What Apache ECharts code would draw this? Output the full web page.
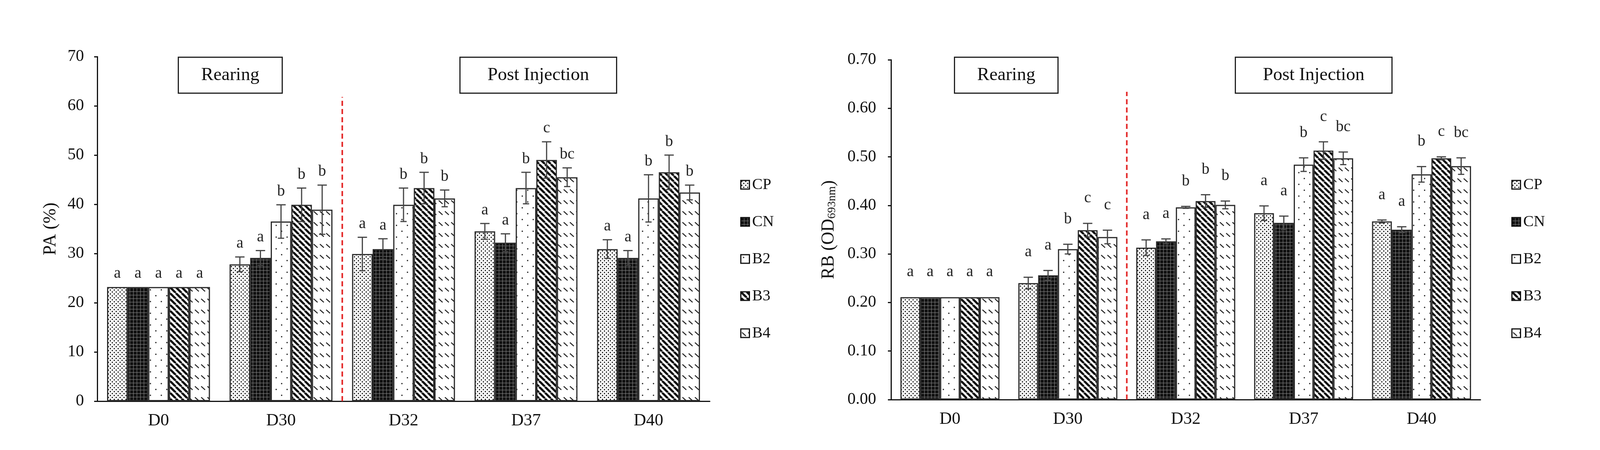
<!DOCTYPE html>
<html>
<head>
<meta charset="utf-8">
<script src="https://cdn.jsdelivr.net/npm/echarts@6/dist/echarts.min.js"></script>
<style>
  html, body { margin: 0; padding: 0; background: #fff; }
  #chart { width: 4108px; height: 1152px; }
</style>
</head>
<body>
<div id="chart"></div>
<script>
var FONT = 'Liberation Serif';

var days = ['D0', 'D30', 'D32', 'D37', 'D40'];
var groups = ['CP', 'CN', 'B2', 'B3', 'B4'];

// PA (%)
var paCP = [23.2, 27.8, 29.9, 34.5, 30.9];
var paCN = [23.2, 29.1, 30.9, 32.2, 29.1];
var paB2 = [23.2, 36.5, 39.9, 43.3, 41.2];
var paB3 = [23.2, 39.9, 43.3, 49.0, 46.5];
var paB4 = [23.2, 38.9, 41.2, 45.5, 42.4];
var paErrCP = [0, 1.5, 3.4, 1.6, 1.9];
var paErrCN = [0, 1.5, 2.1, 1.8, 1.5];
var paErrB2 = [0, 3.4, 3.4, 3.2, 4.8];
var paErrB3 = [0, 3.4, 3.2, 3.7, 3.5];
var paErrB4 = [0, 5.0, 1.7, 1.9, 1.5];
var paLetters = [
  ['a', 'a', 'a', 'a', 'a'],
  ['a', 'a', 'a', 'a', 'a'],
  ['a', 'b', 'b', 'b', 'b'],
  ['a', 'b', 'b', 'c', 'b'],
  ['a', 'b', 'b', 'bc', 'b']
];

// RB (OD 693nm)
var rbCP = [0.211, 0.240, 0.313, 0.384, 0.367];
var rbCN = [0.211, 0.256, 0.326, 0.364, 0.350];
var rbB2 = [0.211, 0.310, 0.396, 0.484, 0.464];
var rbB3 = [0.211, 0.349, 0.409, 0.513, 0.497];
var rbB4 = [0.211, 0.335, 0.401, 0.497, 0.481];
var rbErrCP = [0, 0.012, 0.016, 0.015, 0.003];
var rbErrCN = [0, 0.010, 0.005, 0.014, 0.006];
var rbErrB2 = [0, 0.010, 0.002, 0.014, 0.016];
var rbErrB3 = [0, 0.014, 0.013, 0.018, 0.003];
var rbErrB4 = [0, 0.014, 0.008, 0.013, 0.017];
var rbLetters = [
  ['a', 'a', 'a', 'a', 'a'],
  ['a', 'a', 'a', 'a', 'a'],
  ['a', 'b', 'b', 'b', 'b'],
  ['a', 'c', 'b', 'c', 'c'],
  ['a', 'c', 'b', 'bc', 'bc']
];

// where the rearing / post injection divider starts (axis units)
var paDividerTop = 61.8;
var rbDividerTop = 0.634;

function makeCanvas(w, h, draw) {
  var c = document.createElement('canvas');
  c.width = w; c.height = h;
  var ctx = c.getContext('2d');
  draw(ctx, w, h);
  return c;
}
function dot(ctx, x, y, r) {
  ctx.beginPath(); ctx.arc(x, y, r, 0, Math.PI * 2); ctx.fill();
}

var patterns = [
  // CP: dense dots
  makeCanvas(10, 10, function (ctx, w, h) {
    ctx.fillStyle = '#fff'; ctx.fillRect(0, 0, w, h);
    ctx.fillStyle = '#111';
    dot(ctx, 2.5, 2.5, 1.7); dot(ctx, 7.5, 7.5, 1.7);
  }),
  // CN: black with fine grey grid
  makeCanvas(9, 9, function (ctx, w, h) {
    ctx.fillStyle = '#111'; ctx.fillRect(0, 0, w, h);
    ctx.strokeStyle = '#8a8a8a'; ctx.lineWidth = 1;
    ctx.beginPath();
    ctx.moveTo(8.5, 0); ctx.lineTo(8.5, h);
    ctx.moveTo(0, 8.5); ctx.lineTo(w, 8.5);
    ctx.stroke();
  }),
  // B2: sparse dots
  makeCanvas(28, 30, function (ctx, w, h) {
    ctx.fillStyle = '#fff'; ctx.fillRect(0, 0, w, h);
    ctx.fillStyle = '#111';
    dot(ctx, 7, 7, 1.7); dot(ctx, 21, 22, 1.7);
  }),
  // B3: wide diagonal stripes
  makeCanvas(15, 15, function (ctx, w, h) {
    ctx.fillStyle = '#fff'; ctx.fillRect(0, 0, w, h);
    ctx.strokeStyle = '#111'; ctx.lineWidth = 5.5;
    ctx.beginPath();
    [-w, 0, w].forEach(function (k) { ctx.moveTo(k, 0); ctx.lineTo(k + w, h); });
    ctx.stroke();
  }),
  // B4: dashed diagonals
  makeCanvas(16, 28, function (ctx, w, h) {
    ctx.fillStyle = '#fff'; ctx.fillRect(0, 0, w, h);
    ctx.strokeStyle = '#222'; ctx.lineWidth = 2.4;
    ctx.beginPath(); ctx.moveTo(3, 9); ctx.lineTo(13, 18); ctx.stroke();
  })
];

var chart = echarts.init(document.getElementById('chart'));

var axisLineStyle = { color: '#111', width: 3 };

function barSeries(idx, name, data, pattern) {
  return {
    type: 'bar',
    name: name,
    xAxisIndex: idx,
    yAxisIndex: idx,
    data: data,
    barGap: '0%',
    barCategoryGap: '16%',
    itemStyle: {
      color: { image: pattern, repeat: 'repeat' },
      borderColor: '#2a2a2a',
      borderWidth: 3
    }
  };
}

function errorSeries(idx, vals, errs, letters, letterOffset) {
  var data = [];
  for (var s = 0; s < vals.length; s++) {
    for (var d = 0; d < days.length; d++) {
      data.push([d, s, vals[s][d], errs[s][d]]);
    }
  }
  return {
    type: 'custom',
    xAxisIndex: idx,
    yAxisIndex: idx,
    encode: { x: 0, y: 2 },
    z: 5,
    data: data,
    renderItem: function (params, api) {
      var d = api.value(0), s = api.value(1), v = api.value(2), e = api.value(3);
      var band = api.size([1, 0])[0];
      var bw = band * 0.84 / 5;
      var x = api.coord([d, 0])[0] + (s - 2) * bw;
      var yTop = api.coord([d, v + e])[1];
      var yBot = api.coord([d, v - e])[1];
      var ls = { stroke: '#444', lineWidth: 3 };
      var children = [];
      if (e > 0) {
        children.push(
          { type: 'line', shape: { x1: x, y1: yBot, x2: x, y2: yTop }, style: ls },
          { type: 'line', shape: { x1: x - 12, y1: yTop, x2: x + 12, y2: yTop }, style: ls },
          { type: 'line', shape: { x1: x - 8, y1: yBot, x2: x + 8, y2: yBot }, style: ls }
        );
      }
      children.push({
        type: 'text',
        style: {
          text: letters[s][d], x: x, y: yTop - letterOffset,
          fill: '#222', fontSize: 40, fontFamily: FONT,
          align: 'center', verticalAlign: 'middle'
        }
      });
      return { type: 'group', children: children };
    }
  };
}

function dividerSeries(idx, top) {
  return {
    type: 'custom',
    xAxisIndex: idx,
    yAxisIndex: idx,
    encode: { x: 0, y: 1 },
    data: [[1, top]],
    renderItem: function (params, api) {
      var x = api.coord([1, 0])[0] + api.size([1, 0])[0] / 2;
      return {
        type: 'line',
        shape: { x1: x, y1: api.coord([1, 0])[1], x2: x, y2: api.coord([1, api.value(1)])[1] },
        style: { stroke: '#e32626', lineWidth: 4, lineDash: [13, 8] }
      };
    }
  };
}

function phaseBox(x, y, w, label) {
  return {
    type: 'group',
    left: x, top: y,
    children: [
      { type: 'rect', shape: { x: 0, y: 0, width: w, height: 92 },
        style: { fill: '#fff', stroke: '#222', lineWidth: 3 } },
      { type: 'text', x: w / 2, y: 46,
        style: { text: label, fill: '#111', fontSize: 47, fontFamily: FONT,
                 align: 'center', verticalAlign: 'middle' } }
    ]
  };
}

function xAxis(idx) {
  return {
    type: 'category', gridIndex: idx, data: days,
    axisLine: { lineStyle: axisLineStyle },
    axisTick: { inside: true, length: 10, lineStyle: { color: '#111', width: 3 } },
    axisLabel: { fontSize: 44, fontFamily: FONT, color: '#111', margin: 28 }
  };
}

function legend(left) {
  return {
    orient: 'vertical', left: left, top: 448,
    data: groups,
    itemWidth: 22, itemHeight: 22, itemGap: 55,
    icon: 'rect',
    itemStyle: { borderColor: '#111', borderWidth: 3 },
    textStyle: { fontSize: 40, fontFamily: FONT, color: '#111', padding: [0, 0, 0, 2] },
    selectedMode: false
  };
}

var option = {
  animation: false,
  backgroundColor: '#fff',
  grid: [
    { left: 249, top: 145, width: 1568, height: 882 },
    { left: 2281, top: 153, width: 1509, height: 870 }
  ],
  legend: [legend(1890), legend(3864)],
  xAxis: [xAxis(0), xAxis(1)],
  yAxis: [
    {
      type: 'value', gridIndex: 0, min: 0, max: 70, interval: 10,
      name: 'PA (%)', nameLocation: 'middle', nameGap: 96,
      nameTextStyle: { fontSize: 46, fontFamily: FONT, color: '#111' },
      axisLine: { show: true, lineStyle: axisLineStyle },
      axisTick: { show: true, length: 8, lineStyle: { color: '#111', width: 3 } },
      axisLabel: { fontSize: 42, fontFamily: FONT, color: '#111', margin: 34 },
      splitLine: { show: false }
    },
    {
      type: 'value', gridIndex: 1, min: 0, max: 0.7, interval: 0.1,
      name: 'RB (OD{sub|693nm})', nameLocation: 'middle', nameGap: 136,
      nameTextStyle: {
        fontSize: 46, fontFamily: FONT, color: '#111',
        rich: { sub: { fontSize: 30, fontFamily: FONT, color: '#111', padding: [16, 0, 0, 0] } }
      },
      axisLine: { show: true, lineStyle: axisLineStyle },
      axisTick: { show: true, length: 8, lineStyle: { color: '#111', width: 3 } },
      axisLabel: { fontSize: 42, fontFamily: FONT, color: '#111', margin: 38,
                   formatter: function (v) { return v.toFixed(2); } },
      splitLine: { show: false }
    }
  ],
  graphic: [
    phaseBox(455, 145, 266, 'Rearing'),
    phaseBox(1176, 145, 401, 'Post Injection'),
    phaseBox(2442, 145, 265, 'Rearing'),
    phaseBox(3161, 145, 401, 'Post Injection')
  ],
  series: [
    barSeries(0, 'CP', paCP, patterns[0]),
    barSeries(0, 'CN', paCN, patterns[1]),
    barSeries(0, 'B2', paB2, patterns[2]),
    barSeries(0, 'B3', paB3, patterns[3]),
    barSeries(0, 'B4', paB4, patterns[4]),
    barSeries(1, 'CP', rbCP, patterns[0]),
    barSeries(1, 'CN', rbCN, patterns[1]),
    barSeries(1, 'B2', rbB2, patterns[2]),
    barSeries(1, 'B3', rbB3, patterns[3]),
    barSeries(1, 'B4', rbB4, patterns[4]),
    errorSeries(0, [paCP, paCN, paB2, paB3, paB4],
      [paErrCP, paErrCN, paErrB2, paErrB3, paErrB4], paLetters, 34),
    errorSeries(1, [rbCP, rbCN, rbB2, rbB3, rbB4],
      [rbErrCP, rbErrCN, rbErrB2, rbErrB3, rbErrB4], rbLetters, 64),
    dividerSeries(0, paDividerTop),
    dividerSeries(1, rbDividerTop)
  ]
};

chart.setOption(option);
</script>
</body>
</html>
